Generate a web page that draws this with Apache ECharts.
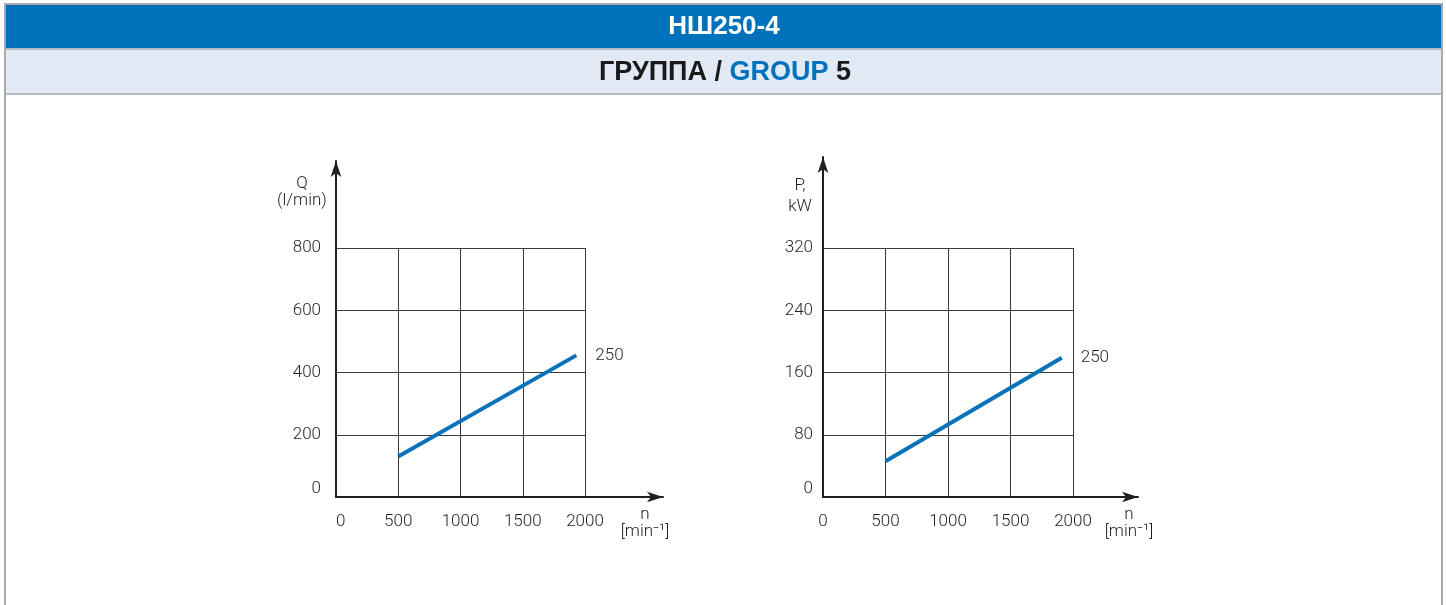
<!DOCTYPE html>
<html>
<head>
<meta charset="utf-8">
<title>НШ250-4</title>
<script src="https://cdn.jsdelivr.net/npm/echarts@6/dist/echarts.min.js"></script>
<style>
  html, body { margin: 0; padding: 0; background: #fff; }
  #chart { width: 1446px; height: 605px; }
</style>
</head>
<body>
<div id="chart"></div>
<script>
// Shaft speed ticks (min⁻¹) shared by both diagrams
const speedTicks = [0, 500, 1000, 1500, 2000];
// Flow ticks (l/min) and power ticks (kW)
const flowTicks = [0, 200, 400, 600, 800];
const powerTicks = [0, 80, 160, 240, 320];

// Pump НШ250 characteristic: flow vs. speed
const flowSpeed = [500, 1930];
const flowValues = [130, 455];
// Pump НШ250 characteristic: power vs. speed
const powerSpeed = [500, 1910];
const powerValues = [46, 179];

const seriesName = '250';

const FONT = 'Roboto, "Noto Sans", sans-serif';
const HEAD_FONT = '"Liberation Sans", Arial, sans-serif';
const INK = '#231f20';
const BLUE = '#0a72ba';

function pairs(xs, ys) { return xs.map((x, i) => [x, ys[i]]); }
const plain = v => String(v);

const chart = echarts.init(document.getElementById('chart'), null, { renderer: 'canvas' });

// Panel boxes: inner grid (scaled area) and outer box (axes with arrows)
const panels = [
  { inner: { left: 336, top: 248, width: 249, height: 249 },
    outer: { left: 336, top: 161, width: 327, height: 336 },
    yTicks: flowTicks, yName: 'Q\n(l/min)', yNamePad: [0, 68, 0, 0], yNameGap: -48, yNameLH: 17,
    yMargin: 15, xNameGap: -18, alignMin: 'left',
    data: pairs(flowSpeed, flowValues) },
  { inner: { left: 823, top: 248, width: 250, height: 249 },
    outer: { left: 823, top: 157, width: 315, height: 340 },
    yTicks: powerTicks, yName: 'P,\nkW', yNamePad: [0, 46, 0, 0], yNameGap: -60, yNameLH: 21,
    yMargin: 10, xNameGap: -9, alignMin: 'center',
    data: pairs(powerSpeed, powerValues) }
];

const grid = [], xAxis = [], yAxis = [], series = [];
panels.forEach((p) => {
  const gi = grid.length;
  grid.push(p.inner, p.outer);
  const xStep = speedTicks[1] - speedTicks[0];
  const yStep = p.yTicks[1] - p.yTicks[0];
  // scaled axes with the square grid
  xAxis.push({
    type: 'value', gridIndex: gi,
    min: speedTicks[0], max: speedTicks[speedTicks.length - 1], interval: xStep,
    axisLine: { show: false }, axisTick: { show: false },
    axisLabel: { color: INK, fontFamily: FONT, fontSize: 17, fontWeight: 300, margin: 16,
      alignMinLabel: p.alignMin, formatter: plain },
    splitLine: { show: true, lineStyle: { color: '#3a3a3a', width: 1 } }
  });
  yAxis.push({
    type: 'value', gridIndex: gi,
    min: p.yTicks[0], max: p.yTicks[p.yTicks.length - 1], interval: yStep,
    axisLine: { show: false }, axisTick: { show: false },
    axisLabel: { color: INK, fontFamily: FONT, fontSize: 17, fontWeight: 300, margin: p.yMargin,
      verticalAlignMinLabel: 'bottom', formatter: plain },
    splitLine: { show: true, lineStyle: { color: '#3a3a3a', width: 1 } }
  });
  // arrowed axes with their names
  const arrowLine = { show: true, symbol: ['none', 'arrow'], symbolSize: [8, 16],
    lineStyle: { color: INK, width: 2 } };
  xAxis.push({
    type: 'value', gridIndex: gi + 1, min: 0, max: 1,
    axisLine: arrowLine, axisTick: { show: false }, axisLabel: { show: false },
    splitLine: { show: false },
    name: 'n\n[min⁻¹]', nameLocation: 'end', nameGap: p.xNameGap,
    nameTextStyle: { color: INK, fontFamily: FONT, fontSize: 17, fontWeight: 300,
      align: 'center', verticalAlign: 'top', lineHeight: 17, padding: [9, 0, 0, 0] }
  });
  yAxis.push({
    type: 'value', gridIndex: gi + 1, min: 0, max: 1,
    axisLine: arrowLine, axisTick: { show: false }, axisLabel: { show: false },
    splitLine: { show: false },
    name: p.yName, nameLocation: 'end', nameGap: p.yNameGap,
    nameTextStyle: { color: INK, fontFamily: FONT, fontSize: 17, fontWeight: 300,
      align: 'center', verticalAlign: 'bottom', lineHeight: p.yNameLH, padding: p.yNamePad }
  });
  series.push({
    name: seriesName, type: 'line', xAxisIndex: gi, yAxisIndex: gi,
    data: p.data, showSymbol: false, symbol: 'none', silent: true,
    lineStyle: { color: BLUE, width: 4, cap: 'butt' },
    endLabel: { show: true, formatter: '{a}', color: INK, fontFamily: FONT,
      fontSize: 17, fontWeight: 300, distance: 19 }
  });
});

chart.setOption({
  animation: false,
  backgroundColor: '#ffffff',
  grid: grid,
  xAxis: xAxis,
  yAxis: yAxis,
  series: series,
  graphic: [
    // frame
    { type: 'rect', z: -10, shape: { x: 5, y: 4, width: 1437, height: 620 },
      style: { fill: '#ffffff', stroke: '#a9a9a9', lineWidth: 2 } },
    // model bar
    { type: 'rect', z: -9, shape: { x: 6, y: 5, width: 1435, height: 43 },
      style: { fill: '#0072bc' } },
    { type: 'rect', z: -9, shape: { x: 6, y: 48, width: 1435, height: 2 },
      style: { fill: '#b4b8bf' } },
    // group bar
    { type: 'rect', z: -9, shape: { x: 6, y: 50, width: 1435, height: 43 },
      style: { fill: '#e1e9f5' } },
    { type: 'rect', z: -9, shape: { x: 6, y: 93, width: 1435, height: 2 },
      style: { fill: '#b4b8bf' } },
    { type: 'text', z: 10, style: { x: 724, y: 27, text: 'НШ250-4',
        fill: '#ffffff', align: 'center', verticalAlign: 'middle',
        font: 'bold 26px ' + HEAD_FONT } },
    { type: 'text', z: 10, style: { x: 725, y: 73,
        text: '{k|ГРУППА / }{g|GROUP}{k| 5}', align: 'center', verticalAlign: 'middle',
        rich: {
          k: { fill: '#1a1a1a', font: 'bold 27px ' + HEAD_FONT },
          g: { fill: '#0072bc', font: 'bold 27px ' + HEAD_FONT }
        } } }
  ]
});
</script>
</body>
</html>
